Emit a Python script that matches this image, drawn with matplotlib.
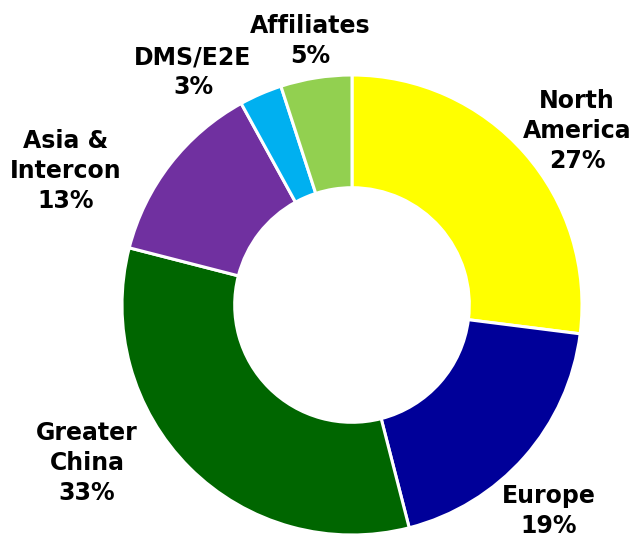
import matplotlib.pyplot as plt

# region share of sales (%), clockwise from 12 o'clock
regions = ['North\nAmerica', 'Europe', 'Greater\nChina', 'Asia &\nIntercon', 'DMS/E2E', 'Affiliates']
shares = [27, 19, 33, 13, 3, 5]
colors = ['#FFFF00', '#000099', '#006600', '#7030A0', '#00B0F0', '#92D050']

# label centres in pixel space (x, y from top)
label_pos = [(577, 131), (549, 511), (87, 463), (66, 171), (193, 72), (310, 41)]

W, H = 633, 537
fig = plt.figure(figsize=(W / 100, H / 100), dpi=100)
ax = fig.add_axes([0, 0, 1, 1])
ax.set_xlim(0, W)
ax.set_ylim(0, H)
ax.set_aspect('equal')
ax.axis('off')

R = 230
ax.pie(shares, colors=colors, startangle=90, counterclock=False,
       radius=R, center=(352, H - 305),
       wedgeprops=dict(width=R * 0.49, edgecolor='white', linewidth=2.2))
ax.set_xlim(0, W)
ax.set_ylim(0, H)

for name, val, (x, y) in zip(regions, shares, label_pos):
    ax.text(x, H - y, f'{name}\n{val}%', ha='center', va='center',
            fontsize=17, fontweight='bold', family='DejaVu Sans',
            linespacing=1.3, color='black')

fig.savefig('out.png', dpi=100)
